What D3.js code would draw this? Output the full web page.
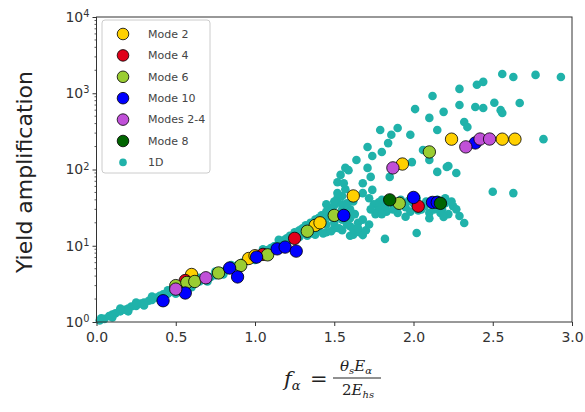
<!DOCTYPE html>
<html><head><meta charset="utf-8">
<script src="https://cdn.jsdelivr.net/npm/d3@7"></script>
<style>body{margin:0;background:#fff}svg{display:block;font-family:"DejaVu Sans",sans-serif}</style>
</head><body><svg id="c" width="585" height="412"></svg>
<script>
// ---- data ----
const seriesNames = ["Mode 2","Mode 4","Mode 6","Mode 10","Modes 2-4","Mode 8","1D"];
const seriesColors = ["#ffd000","#e0001a","#9acd32","#0000ff","#c050d8","#006400","#20b2aa"];
const xTicks = [0,0.5,1.0,1.5,2.0,2.5,3.0];
const yTicks = [1,10,100,1000,10000];

const mode2 = [[0.6,4.2],[0.96,6.8],[1.0,7.4],[1.38,18.5],[1.41,20],[1.62,45],[1.93,118],[2.24,250],[2.56,250],[2.64,250]];
const mode4 = [[0.56,3.5],[1.05,7.7],[1.25,12.5],[2.03,33]];
const mode6 = [[0.5,3.0],[0.57,3.3],[0.62,3.4],[0.77,4.4],[0.91,5.5],[1.08,7.6],[1.33,15.5],[1.5,25],[1.91,36],[2.1,170]];
const mode10 = [[0.42,1.9],[0.56,2.4],[0.84,5.1],[0.89,3.9],[1.01,7.1],[1.14,9.1],[1.19,9.6],[1.26,8.5],[1.56,25],[2.0,43],[2.12,37],[2.15,37],[2.39,223]];
const modes24 = [[0.5,2.7],[0.69,3.8],[1.87,105],[2.33,198],[2.42,251],[2.48,251]];
const mode8 = [[1.85,40],[2.17,36]];
const oneD = [
 [0.02,1.05],[0.03,1.12],[0.05,1.10],[0.08,1.2],[0.1,1.25],[0.12,1.3],[0.15,1.38],[0.18,1.45],[0.2,1.5],[0.22,1.6],
 [0.25,1.62],[0.28,1.75],[0.3,1.8],[0.33,1.9],[0.35,1.95],[0.38,2.1],[0.4,2.2],[0.42,2.3],[0.45,2.35],[0.48,2.5],
 [0.5,2.6],[0.52,2.75],[0.55,2.85],[0.58,3.0],[0.6,3.15],[0.62,3.3],[0.65,3.4],[0.68,3.6],[0.7,3.8],[0.72,3.9],
 [0.75,4.1],[0.78,4.4],[0.8,4.6],[0.82,4.8],[0.85,5.1],[0.88,5.4],[0.9,5.7],[0.92,6.0],[0.95,6.3],[0.98,6.8],
 [1.0,7.2],[1.02,7.6],[1.05,8.2],[1.08,8.8],[1.1,9.3],[1.12,9.8],[1.15,10.8],[1.18,11.8],[1.2,12.5],[1.22,13.5],
 [1.25,15],[1.28,16],[1.3,17],[1.32,18.5],[1.35,20],[1.38,22],[1.4,23],[1.42,25],[1.45,28],[1.48,31],[1.5,34],[1.52,37],
 [0.1,1.15],[0.2,1.38],[0.3,1.65],[0.4,2.0],[0.5,2.35],[0.6,2.85],[0.7,3.4],[0.8,4.2],[0.9,5.1],[1.0,6.5],[1.1,8.3],[1.2,11],
 [0.15,1.5],[0.25,1.8],[0.35,2.15],[0.45,2.6],[0.55,3.1],[0.65,3.8],[0.75,4.6],[0.85,5.6],[0.95,7.0],[1.05,9.0],[1.15,12],
 [1.3,15],[1.35,14.5],[1.4,16],[1.45,15],[1.5,17],[1.55,16],[1.6,18],[1.62,14],[1.65,20],[1.6,23],[1.55,22],[1.5,20],
 [1.45,19],[1.4,20],[1.35,18],[1.58,28],[1.63,26],[1.66,15],[1.68,22],[1.68,13.8],[1.6,13.5],[1.55,30],[1.52,42],
 [1.28,13],[1.33,13.5],[1.38,14],[1.43,14.5],[1.48,15.5],[1.53,17],[1.58,19],[1.62,16.5],[1.47,24],[1.43,22],[1.52,26],
 [1.57,24],[1.6,30],[1.65,17],[1.7,16],[1.72,19],[1.45,35],[1.5,38],[1.55,35],[1.58,36],[1.62,38],[1.55,45],[1.57,55],
 [1.75,35],[1.78,30],[1.8,40],[1.83,28],[1.85,38],[1.88,33],[1.9,27],[1.92,40],[1.95,32],[1.98,28],[2.0,36],[2.02,42],
 [2.05,30],[2.08,38],[2.1,27],[2.12,34],[2.15,40],[2.18,30],[2.2,36],[2.22,26],[2.25,33],[1.72,42],[1.76,26],[1.95,24],[2.1,23],
 [1.78,37],[1.82,33],[1.87,30],[1.93,36],[1.97,39],[2.03,29],[2.07,33],[2.13,30],[2.17,27],[2.2,42],[2.24,38],[2.27,30],[1.73,30],[1.8,26],
 [1.82,12.3],[2.02,14.7],[2.19,23.8],[2.29,24.6],[2.32,19.9],[2.5,51],[2.63,49],
 [2.56,1790],[2.63,1630],[2.77,1740],[2.93,1630],[2.44,1410],[2.4,1290],[2.29,1140],[2.12,920],[2.01,620],[2.19,570],
 [2.29,700],[2.39,660],[2.44,640],[2.51,750],[2.55,600],[2.56,550],[2.67,745],[2.1,475],[2.32,420],[2.34,360],[2.15,330],
 [2.82,250],[1.9,350],[1.98,285],[1.79,330],[1.86,285],[1.84,222],[1.71,197],[1.8,170],[1.74,150],[1.64,133],[1.57,105],
 [2.06,180],[2.1,133],[2.15,93],[2.22,111],[2.27,90],[1.52,68],[1.54,85],[1.68,66],[1.73,80],[1.68,49],[1.74,54],[1.52,49],
 [1.85,80],[1.86,108],[1.99,125],[2.21,108],[1.59,98],[1.71,105],[1.56,66]
];
const seriesData = [mode2,mode4,mode6,mode10,modes24,mode8];

// ---- chart ----
const svg = d3.select("#c");
const x = d3.scaleLinear().domain([0,3]).range([96.5,572]);
const y = d3.scaleLog().domain([1,10000]).range([322,17]);

// 1D points
svg.append("g").selectAll("circle").data(oneD).join("circle")
  .attr("cx",d=>x(d[0])).attr("cy",d=>y(d[1])).attr("r",4.3)
  .attr("fill",seriesColors[6]);

// mode points
seriesData.forEach((arr,i)=>{
  svg.append("g").selectAll("circle").data(arr).join("circle")
    .attr("cx",d=>x(d[0])).attr("cy",d=>y(d[1])).attr("r",6.2)
    .attr("fill",seriesColors[i]).attr("stroke","#000").attr("stroke-width",0.8);
});

// axes
const fs = 14;
const gx = svg.append("g").attr("transform","translate(0,322)")
  .call(d3.axisBottom(x).tickValues(xTicks).tickFormat(d3.format(".1f")).tickSizeOuter(0).tickSize(4));
gx.select(".domain").remove();
gx.selectAll("text").attr("font-size",fs).attr("fill","#333").attr("dy","0.95em").attr("font-family","DejaVu Sans");
gx.selectAll("line").attr("stroke","#333");

const gy = svg.append("g").attr("transform","translate(96.5,0)")
  .call(d3.axisLeft(y).tickValues(yTicks).tickFormat("").tickSizeOuter(0).tickSize(4));
gy.select(".domain").remove();
gy.selectAll("line").attr("stroke","#333");
gy.selectAll(".tick").append("text").attr("x",-7).attr("dy","0.32em")
  .attr("text-anchor","end").attr("font-size",fs).attr("fill","#333").attr("font-family","DejaVu Sans")
  .each(function(d){
    const t=d3.select(this);
    t.append("tspan").text("10");
    t.append("tspan").attr("dy","-0.5em").attr("font-size",fs*0.7).text(Math.round(Math.log10(d)));
  });
// minor ticks
const minor=[];
for(let e=0;e<4;e++) for(let k=2;k<10;k++) minor.push(k*Math.pow(10,e));
svg.append("g").selectAll("line").data(minor).join("line")
  .attr("x1",96.5).attr("x2",94.5).attr("y1",d=>y(d)).attr("y2",d=>y(d)).attr("stroke","#333").attr("stroke-width",0.8);

// frame
svg.append("rect").attr("x",96.5).attr("y",17).attr("width",572-96.5).attr("height",322-17)
  .attr("fill","none").attr("stroke","#333").attr("stroke-width",1);

// y label
svg.append("text").attr("transform","translate(32,172) rotate(-90)").attr("text-anchor","middle")
  .attr("font-size",22).attr("fill","#222").text("Yield amplification");

// x label (math)
const xl = svg.append("g").attr("font-family","DejaVu Serif").attr("fill","#222");
const fx = xl.append("text").attr("x",284).attr("y",386).attr("font-size",21).attr("font-style","italic");
fx.append("tspan").text("f");
fx.append("tspan").attr("dy",4).attr("font-size",13).text("α");
xl.append("text").attr("x",310).attr("y",386).attr("font-size",21).text("=");
const num = xl.append("text").attr("x",356).attr("y",371).attr("text-anchor","middle").attr("font-size",15).attr("font-style","italic");
num.append("tspan").text("θ");
num.append("tspan").attr("dy",3).attr("font-size",10).text("s");
num.append("tspan").attr("dy",-3).text("E");
num.append("tspan").attr("dy",3).attr("font-size",10).text("α");
xl.append("line").attr("x1",333).attr("x2",381).attr("y1",378).attr("y2",378).attr("stroke","#222").attr("stroke-width",1);
const den = xl.append("text").attr("x",358).attr("y",395).attr("text-anchor","middle").attr("font-size",15).attr("font-style","italic");
den.append("tspan").attr("font-style","normal").text("2");
den.append("tspan").text("E");
den.append("tspan").attr("dy",3).attr("font-size",10).text("hs");

// legend
const lg = svg.append("g");
lg.append("rect").attr("x",102).attr("y",20).attr("width",108).attr("height",153).attr("rx",3)
  .attr("fill","#fff").attr("fill-opacity",0.8).attr("stroke","#ccc");
seriesNames.forEach((n,i)=>{
  const yy = 34 + i*21.4;
  lg.append("circle").attr("cx",123).attr("cy",yy).attr("r",i===6?3.8:5.8)
    .attr("fill",seriesColors[i]).attr("stroke",i===6?"none":"#000").attr("stroke-width",0.8);
  lg.append("text").attr("x",148).attr("y",yy).attr("dy","0.35em").attr("font-size",11).attr("fill","#444").text(n);
});
</script></body></html>
